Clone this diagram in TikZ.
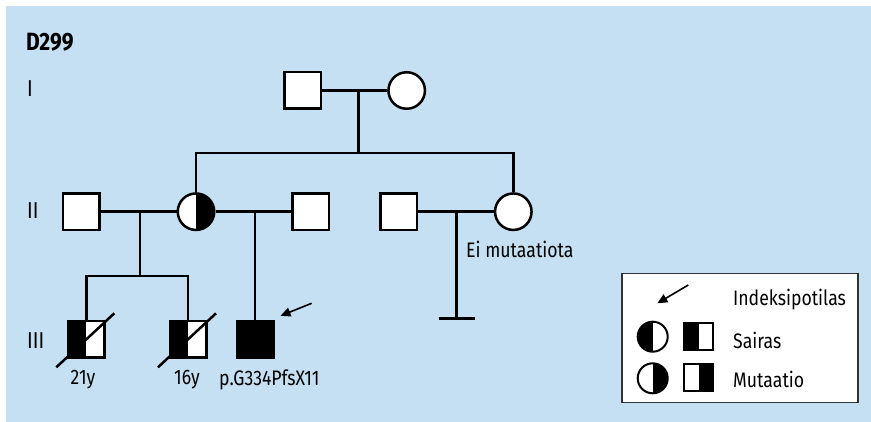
\documentclass[tikz,border=0pt]{standalone}
\usepackage{fontspec}
\setmainfont{Fira Sans}[FakeStretch=0.84]
\usetikzlibrary{arrows.meta}
\definecolor{panel}{RGB}{197,223,243}
\begin{document}
\begin{tikzpicture}[x=1pt,y=-1pt,
  every node/.style={font=\fontsize{21}{24}\selectfont},
  pline/.style={line width=2.5pt},
  person/.style={draw, line width=2.5pt, fill=white, inner sep=0pt, minimum size=36.5pt},
  male/.style={person, rectangle},
  female/.style={person, circle},
  rightblack/.style={path picture={\fill[black] (path picture bounding box.north) rectangle (path picture bounding box.south east);}},
  leftblack/.style={path picture={\fill[black] (path picture bounding box.north west) rectangle (path picture bounding box.south);}},
  allblack/.style={fill=black},
  deceased/.style={line width=2.5pt},
  pointer/.style={line width=1.6pt, -{Triangle[length=10pt,width=9pt]}},
  lbl/.style={inner sep=0pt},
  gen/.style={inner sep=0pt, anchor=west, font=\fontsize{23}{26}\selectfont},
  legsym/.style={draw, line width=2pt, fill=white, inner sep=0pt}
]
% background panel
\useasboundingbox (0,0) rectangle (871,422);
\fill[panel] (6,6) rectangle (871,422);

% title and generation numbers
\node[lbl, anchor=west, font=\fontsize{25}{28}\selectfont\bfseries] (title) at (26,42) {D299};
\node[gen] (genI) at (27,89) {I};
\node[gen] (genII) at (27,211) {II};
\node[gen] (genIII) at (27,341) {III};

% generation I
\node[male] (i1) at (302.5,90.5) {};
\node[female] (i2) at (406.7,90.5) {};
\draw[pline] (i1) -- (i2);
\coordinate (m1) at (358.3,90.5);
\coordinate (s1) at (358.3,153);

% generation II
\node[male] (ii1) at (81.3,211.7) {};
\node[female, rightblack] (ii2) at (196,211.7) {};
\node[male] (ii3) at (310.5,211.7) {};
\node[male] (ii4) at (398.8,211.7) {};
\node[female] (ii5) at (513.3,211.7) {};

\draw[pline] (m1) -- (s1);
\draw[pline] (ii2.north) |- (s1) -| (ii5.north);

\draw[pline] (ii1) -- (ii2);
\draw[pline] (ii2) -- (ii3);
\draw[pline] (ii4) -- (ii5);

% generation III
\node[male, leftblack] (iii1) at (86.3,339.3) {};
\node[male, leftblack] (iii2) at (188,339.3) {};
\node[male, allblack] (iii3) at (255,339.3) {};

\coordinate (m2) at (140,211.7);
\coordinate (s2) at (140,276);
\draw[pline] (m2) -- (s2);
\draw[pline] (iii1.north) |- (s2) -| (iii2.north);

\coordinate (m3) at (255,211.7);
\draw[pline] (m3) -- (iii3.north);

\coordinate (m4) at (456.7,211.7);
\coordinate (nochild) at (456.7,318.3);
\coordinate (nl) at (439.3,318.3);
\coordinate (nr) at (475,318.3);
\draw[pline] (m4) -- (nochild);
\draw[pline] (nl) -- (nr);

% deceased slashes
\draw[deceased] ([shift={(-30,28)}]iii1.center) -- ([shift={(28,-26)}]iii1.center);
\draw[deceased] ([shift={(-30,28)}]iii2.center) -- ([shift={(28,-26)}]iii2.center);

% index patient arrow
\coordinate (ia) at (311.7,303.3);
\draw[pointer] (ia) -- ([shift={(6,-4)}]iii3.north east);

% labels
\node[lbl] (age1) at (83,380) {21y};
\node[lbl] (age2) at (187,380) {16y};
\node[lbl, anchor=west] (mut) at (219,380) {p.G334PfsX11};
\node[lbl, anchor=west] (nomut) at (466,249) {Ei mutaatiota};

% legend
\node[draw=black!80, line width=1.5pt, fill=white, inner sep=0pt, minimum width=236pt, minimum height=129pt] (legend) at (740.2,338) {};
\coordinate (la) at (688.3,285);
\coordinate (lb) at (657.3,303.3);
\draw[pointer] (la) -- (lb);
\node[lbl, anchor=west] (lt1) at (733,300) {Indeksipotilas};

\node[legsym, circle, minimum size=30pt, leftblack] (lc1) at (652.7,336.7) {};
\node[legsym, rectangle, minimum width=29pt, minimum height=27pt, leftblack] (lq1) at (698.7,336.2) {};
\node[lbl, anchor=west] (lt2) at (733,340) {Sairas};

\node[legsym, circle, minimum size=30pt, rightblack] (lc2) at (652.7,378.3) {};
\node[legsym, rectangle, minimum width=29pt, minimum height=27pt, rightblack] (lq2) at (698.7,377.5) {};
\node[lbl, anchor=west] (lt3) at (733,379) {Mutaatio};
\end{tikzpicture}
\end{document}
